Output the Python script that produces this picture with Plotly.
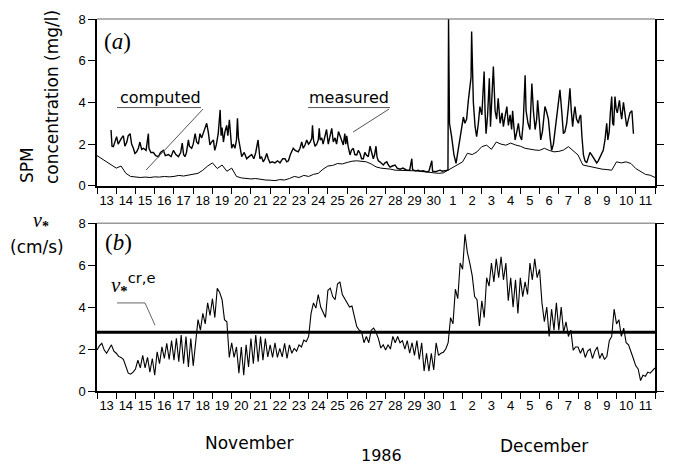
import plotly.graph_objects as go
import pandas as pd

# ---------------- data ----------------
START = "1986-11-13"
END = "1986-12-12"

# friction velocity v* (cm/s), 3-hourly, one row per day (Nov 13 ... Dec 11)
VSTAR_BY_DAY = [
    [1.95, 2.15, 2.27, 1.95, 1.8, 2.0, 2.2, 1.9],
    [1.8, 1.65, 1.6, 1.5, 1.15, 0.85, 0.8, 0.9],
    [1.05, 1.47, 1.1, 1.7, 1.1, 1.6, 0.9, 1.55],
    [0.75, 1.87, 1.3, 2.1, 1.55, 2.27, 1.5, 2.4],
    [1.47, 2.51, 1.4, 2.67, 1.3, 2.6, 1.15, 2.5],
    [1.2, 2.4, 3.4, 2.9, 3.7, 3.2, 4.2, 3.6],
    [4.4, 3.5, 4.9, 4.7, 4.35, 3.4, 3.3, 1.6],
    [2.3, 1.6, 2.1, 0.85, 2.1, 0.75, 2.2, 1.15],
    [2.5, 1.3, 2.67, 1.4, 2.6, 1.47, 2.5, 1.63],
    [2.2, 1.6, 2.3, 1.6, 2.03, 1.63, 2.27, 1.55],
    [2.2, 1.8, 2.03, 1.9, 2.2, 2.1, 2.43, 2.35],
    [2.6, 3.7, 4.2, 3.95, 4.6, 4.0, 3.75, 3.5],
    [4.8, 4.9, 4.5, 4.35, 5.1, 5.2, 4.6, 4.4],
    [4.27, 4.0, 4.05, 3.5, 3.07, 2.9, 2.83, 2.3],
    [2.6, 2.3, 2.9, 3.0, 2.8, 2.5, 2.05, 2.2],
    [1.95, 2.2, 2.0, 2.6, 2.3, 2.6, 2.3, 2.4],
    [2.0, 2.4, 1.8, 2.3, 1.7, 2.4, 1.5, 2.3],
    [0.95, 1.8, 0.95, 1.8, 1.0, 2.3, 1.7, 1.8],
    [1.85, 2.0, 2.3, 3.5, 3.2, 4.85, 4.4, 6.1],
    [5.8, 7.47, 6.6, 6.1, 5.5, 4.5, 4.35, 3.1],
    [4.3, 3.5, 5.4, 5.0, 6.1, 5.2, 6.3, 5.4],
    [6.4, 5.3, 6.1, 4.3, 5.4, 4.0, 5.3, 3.7],
    [5.4, 4.5, 5.2, 4.6, 6.1, 5.3, 6.3, 5.4],
    [5.8, 4.2, 3.3, 4.0, 2.6, 3.9, 2.9, 4.2],
    [2.9, 4.0, 2.8, 3.3, 2.6, 2.9, 1.95, 2.1],
    [2.1, 1.8, 2.05, 1.6, 1.9, 2.0, 1.55, 1.9],
    [2.1, 1.55, 1.8, 1.5, 1.65, 2.4, 2.6, 3.9],
    [3.2, 3.4, 2.6, 3.0, 2.3, 2.2, 1.9, 1.55],
    [1.2, 1.05, 0.5, 0.75, 0.7, 0.9, 0.85, 1.0],
    [1.1],
]

# critical friction velocity for erosion (cm/s)
VSTAR_CRIT = 2.8

# computed SPM (mg/l), 6-hourly, one row per day
COMPUTED_BY_DAY = [
    [1.45, 1.3, 1.15, 1.0],
    [0.85, 0.95, 0.6, 0.45],
    [0.42, 0.4, 0.42, 0.4],
    [0.43, 0.42, 0.45, 0.43],
    [0.45, 0.5, 0.47, 0.52],
    [0.55, 0.6, 0.75, 0.95],
    [1.1, 0.83, 1.0, 0.7],
    [0.85, 0.45, 0.38, 0.36],
    [0.33, 0.35, 0.3, 0.28],
    [0.27, 0.25, 0.3, 0.28],
    [0.35, 0.45, 0.4, 0.5],
    [0.45, 0.55, 0.6, 0.8],
    [0.95, 0.98, 1.07, 1.05],
    [1.12, 1.18, 1.2, 1.17],
    [1.15, 1.05, 0.91, 0.85],
    [0.83, 0.8, 0.75, 0.75],
    [0.72, 0.73, 0.72, 0.7],
    [0.67, 0.65, 0.62, 0.6],
    [0.62, 0.75, 0.85, 1.0],
    [1.15, 1.56, 1.5, 1.63],
    [1.88, 1.95, 1.75, 2.1],
    [2.0, 1.95, 2.05, 1.96],
    [1.9, 1.8, 1.75, 1.72],
    [1.7, 1.8, 1.7, 1.63],
    [1.65, 1.72, 1.88, 1.7],
    [1.48, 1.0, 0.95, 0.88],
    [0.85, 0.8, 0.78, 0.75],
    [1.15, 1.1, 1.15, 1.07],
    [0.83, 0.67, 0.55, 0.51],
    [0.4],
]

# measured SPM (mg/l): time in days after Nov 13 00:00, and value
MEAS_DAY = [
    0.73, 0.78, 0.85, 0.95, 1.02, 1.1, 1.2, 1.28, 1.37, 1.45, 1.55, 1.62, 1.72, 1.8, 1.89, 1.97,
    2.06, 2.15, 2.23, 2.32, 2.41, 2.55, 2.67, 2.7, 2.8, 2.93, 3.05, 3.2, 3.3, 3.45, 3.55, 3.71,
    3.85, 3.97, 4.1, 4.23, 4.35, 4.43, 4.5, 4.57, 4.65, 4.75, 4.8, 4.92, 5.0, 5.1, 5.18, 5.27,
    5.35, 5.44, 5.55, 5.7, 5.78, 5.87, 5.95, 6.05, 6.12, 6.2, 6.3, 6.4, 6.45, 6.5, 6.57, 6.65,
    6.74, 6.8, 6.88, 6.95, 7.0, 7.08, 7.17, 7.25, 7.3, 7.35, 7.43, 7.52, 7.65, 7.78, 7.9, 8.04,
    8.15, 8.25, 8.37, 8.42, 8.47, 8.55, 8.64, 8.73, 8.82, 8.9, 8.99, 9.1, 9.25, 9.38, 9.51, 9.65,
    9.77, 9.86, 9.95, 10.05, 10.2, 10.3, 10.46, 10.55, 10.64, 10.72, 10.81, 10.9, 10.99, 11.08,
    11.16, 11.2, 11.25, 11.33, 11.42, 11.5, 11.55, 11.6, 11.68, 11.75, 11.85, 11.93, 12.02, 12.1,
    12.2, 12.28, 12.37, 12.45, 12.55, 12.63, 12.72, 12.8, 12.88, 12.93, 12.98, 13.05, 13.15,
    13.22, 13.32, 13.4, 13.5, 13.58, 13.67, 13.75, 13.84, 13.92, 14.0, 14.1, 14.19, 14.28, 14.36,
    14.43, 14.5, 14.55, 14.62, 14.7, 14.8, 14.88, 14.97, 15.06, 15.14, 15.23, 15.35, 15.49, 15.6,
    15.75, 15.9, 16.0, 16.1, 16.25, 16.36, 16.4, 16.55, 16.7, 16.8, 16.95, 17.05, 17.14, 17.25,
    17.4, 17.44, 17.6, 17.72, 17.83, 17.95, 18.05, 18.17, 18.24, 18.27, 18.32, 18.43, 18.55,
    18.66, 18.75, 18.87, 18.95, 19.04, 19.12, 19.21, 19.3, 19.39, 19.44, 19.47, 19.5, 19.56,
    19.65, 19.73, 19.82, 19.9, 20.0, 20.06, 20.12, 20.17, 20.22, 20.3, 20.39, 20.45, 20.52, 20.6,
    20.69, 20.77, 20.85, 20.95, 21.05, 21.12, 21.2, 21.3, 21.38, 21.47, 21.55, 21.6, 21.67, 21.73,
    21.82, 21.9, 21.98, 22.07, 22.15, 22.2, 22.25, 22.3, 22.4, 22.5, 22.55, 22.6, 22.68, 22.77,
    22.85, 22.9, 22.98, 23.06, 23.15, 23.22, 23.28, 23.35, 23.46, 23.55, 23.63, 23.72, 23.8,
    23.89, 23.98, 24.06, 24.15, 24.24, 24.32, 24.41, 24.5, 24.58, 24.65, 24.72, 24.78, 24.84,
    24.92, 25.02, 25.08, 25.14, 25.2, 25.28, 25.36, 25.45, 25.55, 25.62, 25.7, 25.8, 25.88,
    25.97, 26.05, 26.14, 26.22, 26.31, 26.4, 26.49, 26.55, 26.62, 26.68, 26.75, 26.8, 26.85,
    26.92, 26.98, 27.04, 27.1, 27.15, 27.22, 27.27, 27.36, 27.45, 27.53, 27.62, 27.7, 27.8, 27.88,
]
MEAS_VAL = [
    2.68, 1.9, 1.88, 2.2, 2.36, 2.0, 2.2, 2.3, 2.4, 1.9, 2.1, 2.4, 2.5, 2.0, 1.8, 1.55,
    1.63, 1.8, 2.1, 1.75, 1.8, 1.7, 2.5, 1.8, 1.6, 1.6, 1.45, 1.4, 1.6, 1.7, 1.45, 1.5,
    1.4, 1.7, 1.5, 1.4, 1.6, 2.05, 1.5, 1.4, 1.6, 2.2, 1.9, 1.8, 2.0, 2.5, 2.1, 2.0,
    2.5, 2.3, 2.6, 3.0, 2.6, 1.96, 2.1, 2.2, 1.7, 1.96, 2.5, 3.64, 2.4, 2.8, 2.1, 2.6,
    2.9, 2.4, 3.16, 2.2, 1.8, 2.0, 1.8, 2.2, 3.24, 2.3, 1.9, 1.4, 1.6, 1.3, 1.4, 1.5,
    1.3, 1.6, 2.2, 1.5, 1.3, 1.4, 1.15, 1.3, 1.55, 1.3, 1.1, 1.15, 1.1, 1.2, 1.1, 1.3,
    1.3, 1.15, 1.2, 1.5, 1.8, 1.7, 1.63, 1.8, 2.1, 1.8, 1.96, 2.2, 2.0, 2.1,
    2.28, 2.9, 2.2, 1.9, 2.0, 2.2, 2.76, 2.2, 2.3, 2.0, 2.4, 2.7, 2.0, 2.3,
    2.76, 2.1, 2.3, 2.0, 2.6, 2.4, 2.1, 1.96, 2.5, 2.0, 2.4, 1.9, 1.48,
    1.7, 1.8, 1.5, 1.48, 1.7, 1.55, 1.3, 1.3, 1.6, 1.48, 1.4, 1.9, 1.5, 1.3,
    1.5, 1.9, 1.4, 1.2, 1.15, 1.05, 1.0, 1.1, 1.15, 1.0, 0.9, 0.95, 1.0, 0.85,
    0.8, 0.85, 0.78, 0.75, 0.75, 1.3, 0.78, 0.72, 0.75, 0.7, 0.72, 0.7, 0.67, 0.7,
    1.2, 0.7, 0.68, 0.72, 0.75, 0.7, 0.72, 0.75, 0.75, 8.0, 3.0, 2.36, 1.5,
    1.08, 1.6, 2.5, 2.9, 3.3, 3.0, 3.2, 4.1, 4.76, 5.2, 7.4, 5.7, 4.0,
    2.84, 2.36, 3.0, 3.8, 3.4, 4.2, 5.48, 3.5, 2.5, 3.4, 5.16, 2.84, 4.0, 5.72,
    3.6, 3.2, 4.2, 3.0, 3.5, 2.84, 3.3, 3.8, 2.9, 3.4, 2.7, 3.6, 2.8, 2.2,
    2.6, 3.0, 2.4, 2.2, 3.0, 4.0, 5.3, 3.6, 3.0, 2.7, 3.5, 4.9, 3.6, 2.7,
    3.2, 4.1, 3.2, 2.2, 2.6, 3.2, 3.8, 3.6, 3.2, 2.3, 1.7, 2.0, 2.6,
    3.2, 4.0, 4.6, 3.6, 2.5, 2.6, 3.0, 3.8, 4.68, 3.6, 2.84, 3.4, 3.8,
    3.2, 3.0, 3.3, 3.4, 2.4, 1.48, 1.2, 1.1, 1.4, 1.6, 1.5, 1.35, 1.2,
    1.1, 1.2, 1.4, 1.55, 1.7, 2.2, 3.0, 2.2, 2.6, 3.5, 4.28, 3.0, 2.9,
    4.28, 3.7, 3.5, 3.8, 4.1, 3.5, 3.2, 4.0, 3.5, 2.84, 3.2, 3.5, 3.6, 2.5,
]

Y_TICKS = [0, 2, 4, 6, 8]

# ---------------- build series ----------------
start = pd.Timestamp(START)
vstar = [v for day in VSTAR_BY_DAY for v in day]
computed = [v for day in COMPUTED_BY_DAY for v in day]
v_time = pd.date_range(start, periods=len(vstar), freq="3h")
c_time = pd.date_range(start, periods=len(computed), freq="6h")
m_time = start + pd.to_timedelta(MEAS_DAY, unit="D")

fig = go.Figure()
fig.add_trace(go.Scatter(x=m_time, y=MEAS_VAL, mode="lines", xaxis="x", yaxis="y",
                         line=dict(color="black", width=1.4), hoverinfo="skip"))
fig.add_trace(go.Scatter(x=c_time, y=computed, mode="lines", xaxis="x", yaxis="y3",
                         line=dict(color="black", width=1.0), hoverinfo="skip"))
fig.add_trace(go.Scatter(x=v_time, y=vstar, mode="lines", xaxis="x2", yaxis="y2",
                         line=dict(color="black", width=1.1), hoverinfo="skip"))
fig.add_trace(go.Scatter(x=[START, END], y=[VSTAR_CRIT, VSTAR_CRIT], mode="lines",
                         xaxis="x2", yaxis="y4", line=dict(color="black", width=3),
                         hoverinfo="skip"))

# ---------------- layout ----------------
# target pixel positions in the window; the page body adds an 8 px offset
OFF = 8
L, R, T, B = 97, 655, 19, 390.7
W, H = 673 - OFF, 465 - OFF


def px(x):
    return (x - L) / (R - L)


def py(y):
    return (B - y) / (B - T)


tickfont = dict(family="Liberation Sans, Arial, sans-serif", size=13, color="black")
xcommon = dict(type="date", range=[START, END], tick0=START, dtick=86400000,
               ticklabelmode="period", tickformat="%-d", ticks="outside", ticklen=6,
               tickwidth=1.2, tickcolor="black", showline=True, linecolor="black",
               linewidth=1.5, showgrid=False, zeroline=False, tickfont=tickfont,
               ticklabelstandoff=-4, automargin=False)
ycommon = dict(range=[0, 8], tickvals=Y_TICKS, ticks="outside", ticklen=7, tickwidth=1.2,
               tickcolor="black", showline=True, linecolor="black", linewidth=1.5,
               showgrid=False, zeroline=False, tickfont=tickfont, automargin=False)

dom_a = [py(185.7), 1]
dom_b = [0, py(223)]

fig.update_layout(
    width=W, height=H,
    margin=dict(l=L - OFF, r=W - (R - OFF), t=T - OFF, b=H - (B - OFF), pad=0),
    paper_bgcolor="white", plot_bgcolor="white", showlegend=False,
    xaxis=dict(anchor="y", domain=[0, 1], **xcommon),
    xaxis2=dict(anchor="y2", domain=[0, 1], **xcommon),
    yaxis=dict(domain=dom_a, anchor="x", side="left", **ycommon),
    yaxis3=dict(domain=dom_a, anchor="x", overlaying="y", side="right", **ycommon),
    yaxis2=dict(domain=dom_b, anchor="x2", side="left", **ycommon),
    yaxis4=dict(domain=dom_b, anchor="x2", overlaying="y2", side="right", **ycommon),
)

sans = "DejaVu Sans, Verdana, sans-serif"
serif = "Liberation Serif, Times New Roman, serif"


def note(text, x, y, size, family=sans, angle=0, xanchor="center"):
    fig.add_annotation(text=text, x=px(x), y=py(y), xref="paper", yref="paper",
                       showarrow=False, xanchor=xanchor, yanchor="middle",
                       textangle=angle, font=dict(family=family, size=size, color="black"))


def seg(x0, y0, x1, y1, color="#555", width=1):
    fig.add_shape(type="line", xref="paper", yref="paper", x0=px(x0), y0=py(y0),
                  x1=px(x1), y1=py(y1), line=dict(color=color, width=width))


# top borders of both panels
fig.add_shape(type="line", xref="paper", yref="y domain", x0=0, x1=1, y0=1, y1=1,
              line=dict(color="#666", width=1))
fig.add_shape(type="line", xref="paper", yref="y2 domain", x0=0, x1=1, y0=1, y1=1,
              line=dict(color="#666", width=1))

# panel letters
note("(<i>a</i>)", 117, 41, 23, serif)
note("(<i>b</i>)", 118, 242, 23, serif)

# curve labels with leader lines
note("computed", 160, 97, 16)
seg(117, 107.5, 201, 107.5)
seg(203, 109, 146, 170)
note("measured", 349, 97, 16)
seg(308, 107.5, 390, 107.5)
seg(389, 109, 353, 132)

# threshold label
note('<i>v</i><sub><b>*</b></sub><sup><span style="font-family:DejaVu Sans">cr,e</span></sup>',
     109, 284, 21, serif, xanchor="left")
seg(117, 302.7, 145, 302.7, "#666")
seg(145, 302.7, 155, 325, "#666")

# y-axis titles
note("SPM", 27, 165, 17, sans, -90)
note("concentration (mg/l)", 52, 97, 17, sans, -90)
note("<i>v</i><sub><b>*</b></sub>", 41, 221, 20, serif)
note("(cm/s)", 37, 247, 17, sans)

# x-axis titles
note("November", 249, 443, 17)
note("December", 544, 446, 17)
note("1986", 381, 455, 16)

fig.write_html("out.html")
